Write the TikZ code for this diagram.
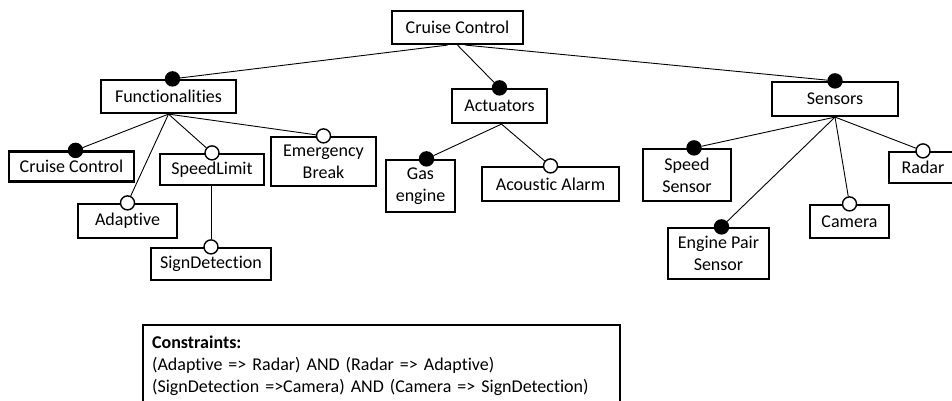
\documentclass[tikz,border=0pt]{standalone}
\usepackage{fontspec}
\setmainfont{Carlito}[Ligatures=NoCommon]
\usetikzlibrary{positioning, calc}

\begin{document}
\begin{tikzpicture}[
    x=1pt, y=-1pt,
    every node/.style={font=\fontsize{18}{22}\selectfont},
    feature/.style={draw, rectangle, line width=2.2pt, fill=white, inner sep=2pt, align=center},
    mandatory/.style={draw, circle, line width=1.4pt, fill=black, minimum size=14pt, inner sep=0pt},
    optional/.style={draw, circle, line width=1.4pt, fill=white, minimum size=14pt, inner sep=0pt},
    link/.style={line width=0.9pt, black},
    note/.style={draw, rectangle, line width=2.2pt, anchor=north west, align=left, inner xsep=9pt, inner ysep=11pt}
]
    \useasboundingbox (0,0) rectangle (952,401);

    % feature boxes
    \node[feature, minimum width=131pt, minimum height=33pt] (Root)  at (457.5,27.5) {Cruise Control};

    \node[feature, minimum width=135pt, minimum height=33pt] (Func)  at (168.5,96.5) {Functionalities};
    \node[feature, minimum width=95pt,  minimum height=34pt] (Act)   at (499.5,106)  {Actuators};
    \node[feature, minimum width=126pt, minimum height=34pt] (Sens)  at (835,99)     {Sensors};

    \node[feature, minimum width=125pt, minimum height=30pt] (CC)    at (71.5,166.5) {Cruise Control};
    \node[feature, minimum width=99pt,  minimum height=34pt] (Adapt) at (127.5,221)  {Adaptive};
    \node[feature, minimum width=104pt, minimum height=31pt] (SpLim) at (212,169.5)  {SpeedLimit};
    \node[feature, minimum width=105pt, minimum height=49pt] (EmBr)  at (323.5,161.5) {Emergency\\Break};
    \node[feature, minimum width=120pt, minimum height=32pt] (SgDet) at (211,264)    {SignDetection};

    \node[feature, minimum width=69pt,  minimum height=52pt] (Gas)   at (420.5,186)  {Gas\\engine};
    \node[feature, minimum width=137pt, minimum height=34pt] (Alarm) at (550.5,184)  {Acoustic Alarm};

    \node[feature, minimum width=88pt,  minimum height=52pt] (SpSen) at (687,175)    {Speed\\Sensor};
    \node[feature, minimum width=101pt, minimum height=51pt] (EnPr)  at (718.5,253.5) {Engine Pair\\Sensor};
    \node[feature, minimum width=79pt,  minimum height=33pt] (Cam)   at (849.5,221.5) {Camera};
    \node[feature, minimum width=68pt,  minimum height=31pt] (Radar) at (923,167.5)  {Radar};

    % mandatory / optional markers
    \node[mandatory] (FuncDot)  at ([xshift=4pt]Func.north)  {};
    \node[mandatory] (ActDot)   at (Act.north)               {};
    \node[mandatory] (SensDot)  at (Sens.north)              {};
    \node[mandatory] (CCDot)    at ([xshift=4pt]CC.north)    {};
    \node[optional]  (AdaptDot) at (Adapt.north)             {};
    \node[optional]  (SpLimDot) at (SpLim.north)             {};
    \node[optional]  (EmBrDot)  at (EmBr.north)              {};
    \node[optional]  (SgDetDot) at (SgDet.north)             {};
    \node[mandatory] (GasDot)   at ([xshift=6pt]Gas.north)   {};
    \node[optional]  (AlarmDot) at (Alarm.north)             {};
    \node[mandatory] (SpSenDot) at ([xshift=7pt]SpSen.north) {};
    \node[mandatory] (EnPrDot)  at ([xshift=3pt]EnPr.north)  {};
    \node[optional]  (CamDot)   at (Cam.north)               {};
    \node[optional]  (RadarDot) at (Radar.north)             {};

    % tree links
    \draw[link] ([xshift=-10pt]Root.south) -- (FuncDot);
    \draw[link] (Root.south) -- (ActDot);
    \draw[link] ([xshift=8pt]Root.south) -- (SensDot);

    \draw[link] (Func.south) -- (CCDot);
    \draw[link] (Func.south) -- (AdaptDot);
    \draw[link] (Func.south) -- (SpLimDot);
    \draw[link] (Func.south) -- (EmBrDot);
    \draw[link] (SgDetDot) -- (SgDetDot |- SpLim.south);

    \draw[link] ([xshift=2pt]Act.south) -- (GasDot);
    \draw[link] ([xshift=2pt]Act.south) -- (AlarmDot);

    \draw[link] (Sens.south) -- (SpSenDot);
    \draw[link] (Sens.south) -- (EnPrDot);
    \draw[link] (Sens.south) -- (CamDot);
    \draw[link] (Sens.south) -- (RadarDot);

    % cross-tree constraints
    \node[note, text width=459pt] (Cons) at (142,324)
        {\textbf{Constraints:}\\
         (Adaptive => Radar) AND (Radar => Adaptive)\\
         (SignDetection =>Camera) AND (Camera => SignDetection)};

\end{tikzpicture}
\end{document}
